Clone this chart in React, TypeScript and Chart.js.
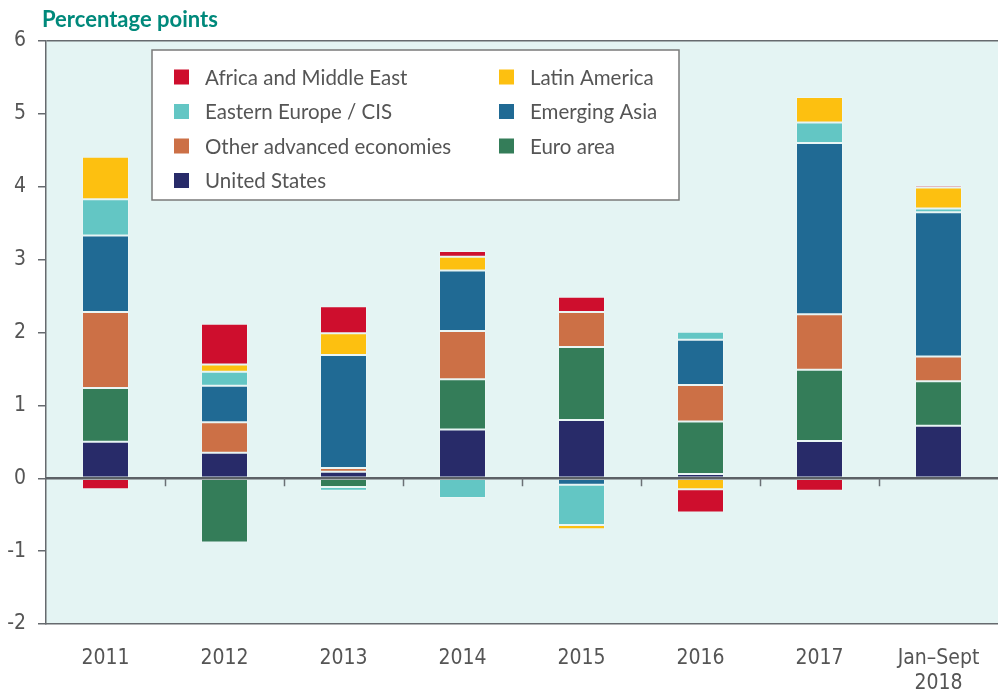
import React, { useEffect, useRef } from "react";
import { Chart, registerables } from "chart.js";

Chart.register(...registerables);

const categories: (string | string[])[] = ["2011", "2012", "2013", "2014", "2015", "2016", "2017", ["Jan–Sept", "2018"]];

const unitedStates = [0.5, 0.35, 0.09, 0.67, 0.8, 0.06, 0.51, 0.72];
const euroArea = [0.74, -0.88, -0.12, 0.69, 1.0, 0.72, 0.98, 0.61];
const otherAdvanced = [1.04, 0.42, 0.05, 0.66, 0.48, 0.5, 0.76, 0.34];
const emergingAsia = [1.05, 0.5, 1.55, 0.83, -0.09, 0.62, 2.35, 1.98];
const easternEurope = [0.5, 0.19, -0.05, -0.27, -0.55, 0.11, 0.28, 0.05];
const latinAmerica = [0.58, 0.1, 0.3, 0.19, -0.06, -0.15, 0.35, 0.29];
const africaME = [-0.15, 0.56, 0.37, 0.08, 0.21, -0.32, -0.17, 0.03];

const yTicks = [-2, -1, 0, 1, 2, 3, 4, 5, 6];

const seriesLabels = [
  "United States",
  "Euro area",
  "Other advanced economies",
  "Emerging Asia",
  "Eastern Europe / CIS",
  "Latin America",
  "Africa and Middle East",
];
const seriesColors = ["#282b69", "#347d59", "#cc7046", "#206a94", "#63c6c4", "#fdc010", "#ce0e2d"];
const seriesValues = [unitedStates, euroArea, otherAdvanced, emergingAsia, easternEurope, latinAmerica, africaME];

const legendOrder = [
  "Africa and Middle East",
  "Latin America",
  "Eastern Europe / CIS",
  "Emerging Asia",
  "Other advanced economies",
  "Euro area",
  "United States",
];

const titleText = "Percentage points";

const condensed = "'Liberation Sans Narrow', 'DejaVu Sans Condensed', sans-serif";
const legendFont = "Lato, 'Open Sans', sans-serif";

const decorPlugin = {
  id: "decor",
  beforeDraw(chart: any) {
    const { ctx, chartArea } = chart;
    ctx.save();
    ctx.fillStyle = "#e4f4f3";
    ctx.fillRect(chartArea.left, chartArea.top, chartArea.right - chartArea.left, chartArea.bottom - chartArea.top);
    ctx.restore();
  },
  afterDatasetsDraw(chart: any) {
    const { ctx, chartArea, scales } = chart;
    const y0 = scales.y.getPixelForValue(0);
    ctx.save();
    ctx.strokeStyle = "#5c6166";
    ctx.lineWidth = 2.5;
    ctx.beginPath();
    ctx.moveTo(chartArea.left, y0);
    ctx.lineTo(chartArea.right, y0);
    ctx.stroke();
    ctx.lineWidth = 1.5;
    ctx.strokeStyle = "#6b7075";
    const n = categories.length;
    for (let i = 0; i < n - 1; i++) {
      const xa = scales.x.getPixelForValue(i);
      const xb = scales.x.getPixelForValue(i + 1);
      const xm = Math.round((xa + xb) / 2) + 0.5;
      ctx.beginPath();
      ctx.moveTo(xm, y0);
      ctx.lineTo(xm, y0 + 8);
      ctx.stroke();
    }
    ctx.restore();
  },
  afterDraw(chart: any) {
    const { ctx } = chart;
    ctx.save();
    // title
    ctx.fillStyle = "#00897b";
    ctx.font = "bold 22px " + legendFont;
    ctx.textBaseline = "middle";
    ctx.textAlign = "left";
    ctx.fillText(titleText, 42, 20);
    // legend box
    const bx = 152, by = 50, bw = 527, bh = 150;
    ctx.fillStyle = "#ffffff";
    ctx.fillRect(bx, by, bw, bh);
    ctx.strokeStyle = "#7a7a7a";
    ctx.lineWidth = 1.5;
    ctx.strokeRect(bx, by, bw, bh);
    ctx.font = "20.5px " + legendFont;
    ctx.textBaseline = "middle";
    legendOrder.forEach((label, i) => {
      const ds = chart.data.datasets.find((d: any) => d.label === label);
      const col = i % 2;
      const row = Math.floor(i / 2);
      const sx = col === 0 ? 174 : 499;
      const cy = 77 + row * 34.5;
      ctx.fillStyle = ds.backgroundColor;
      ctx.fillRect(sx, cy - 7.5, 15, 15);
      ctx.fillStyle = "#555555";
      ctx.fillText(label, sx + 31, cy + 1);
    });
    ctx.restore();
  },
};

export default function App() {
  const canvasRef = useRef<HTMLCanvasElement | null>(null);

  useEffect(() => {
    document.body.style.margin = "0";
    const canvas = canvasRef.current;
    if (!canvas) return;
    const chart = new Chart(canvas, {
      type: "bar",
      data: {
        labels: categories,
        datasets: seriesLabels.map((label, i) => ({
          label,
          data: seriesValues[i],
          backgroundColor: seriesColors[i],
          borderColor: "rgba(255,255,255,0.22)",
          borderWidth: 1,
          borderSkipped: false,
          barPercentage: 0.395,
          categoryPercentage: 1,
        })),
      },
      options: {
        animation: false,
        responsive: false,
        maintainAspectRatio: false,
        layout: { padding: { top: 41, right: 0, left: 0, bottom: 0 } },
        plugins: {
          legend: { display: false },
          tooltip: { enabled: false },
          title: { display: false },
        },
        scales: {
          x: {
            stacked: true,
            grid: { display: false },
            border: { display: true, color: "#666a6e", width: 1.5 },
            ticks: {
              color: "#555555",
              font: { family: condensed, size: 21 },
              padding: 14,
              maxRotation: 0,
              autoSkip: false,
            },
            afterFit(scale: any) {
              scale.height = 70;
            },
          },
          y: {
            stacked: true,
            min: -2,
            max: 6,
            afterBuildTicks(scale: any) {
              scale.ticks = yTicks.map((v) => ({ value: v }));
            },
            grid: {
              drawOnChartArea: true,
              color: (c: any) => (c.tick && c.tick.value === 6 ? "#666a6e" : "rgba(0,0,0,0)"),
              lineWidth: 1.5,
              tickLength: 8,
              tickColor: "#666a6e",
              tickWidth: 1.5,
            },
            border: { display: true, color: "#666a6e", width: 1.5 },
            ticks: {
              color: "#555555",
              font: { family: condensed, size: 21 },
              padding: 12,
            },
            afterFit(scale: any) {
              scale.width = 46;
            },
          },
        },
      },
      plugins: [decorPlugin],
    });
    return () => chart.destroy();
  }, []);

  return (
    <div style={{ position: "absolute", left: 0, top: 0, width: 998, height: 694 }}>
      <canvas ref={canvasRef} width={998} height={694} style={{ width: 998, height: 694, display: "block" }} />
    </div>
  );
}
